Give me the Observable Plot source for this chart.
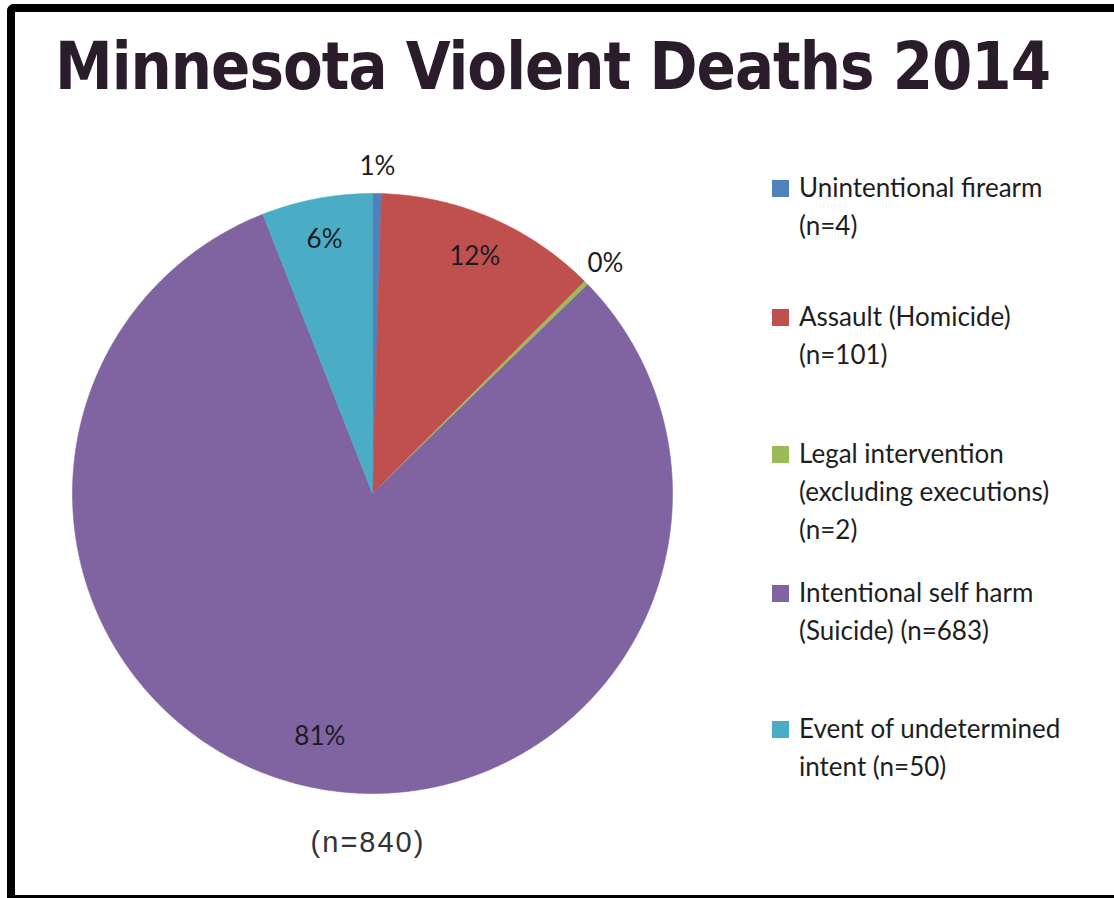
<!DOCTYPE html>
<html><head><meta charset="utf-8">
<script src="https://cdn.jsdelivr.net/npm/d3@7"></script>
<script src="https://cdn.jsdelivr.net/npm/@observablehq/plot@0.6"></script>
<style>
html,body{margin:0;padding:0;background:#fff;}
#wrap{position:relative;width:1114px;height:898px;overflow:hidden;background:#fff;}
#chart{position:absolute;left:0;top:0;}
#frame{position:absolute;left:7px;top:4px;width:1130px;height:899px;border-left:8px solid #000;border-top:8px solid #000;border-bottom:8px solid #000;border-top-left-radius:7px;box-sizing:border-box;pointer-events:none;}
#title{position:absolute;left:55px;top:34px;font-family:"DejaVu Sans Condensed","DejaVu Sans",sans-serif;font-stretch:condensed;font-weight:bold;font-size:66px;line-height:66px;letter-spacing:-1px;color:#2a1c2b;white-space:nowrap;transform-origin:0 0;}
#legend{position:absolute;left:772px;top:0;font-family:Lato,sans-serif;font-size:26px;line-height:38px;color:#1e1e1e;}
.entry{position:absolute;left:0;white-space:nowrap;}
.sw{position:absolute;left:0;width:17px;height:17px;}
.txt{position:absolute;left:27px;top:0;}
#total{position:absolute;left:368px;top:826px;transform:translateX(-50%);font-family:"Liberation Sans",Arial,sans-serif;font-size:29px;letter-spacing:2px;color:#333;white-space:nowrap;}
</style>
</head><body>
<div id="wrap">
  <div id="chart"></div>
  <div id="title"></div>
  <div id="legend"></div>
  <div id="total"></div>
  <div id="frame"></div>
</div>
<script>
// ---- data ----
const titleText = "Minnesota Violent Deaths 2014";
const categories = [
  "Unintentional firearm",
  "Assault (Homicide)",
  "Legal intervention (excluding executions)",
  "Intentional self harm (Suicide)",
  "Event of undetermined intent"
];
const counts = [4, 101, 2, 683, 50];
const pctLabels = ["1%", "12%", "0%", "81%", "6%"];
const legendLines = [
  ["Unintentional firearm", "(n=4)"],
  ["Assault (Homicide)", "(n=101)"],
  ["Legal intervention", "(excluding executions)", "(n=2)"],
  ["Intentional self harm", "(Suicide) (n=683)"],
  ["Event of undetermined", "intent (n=50)"]
];
// ---- styles ----
const colors = ["#4f81bd", "#c0504d", "#9bbb59", "#8064a2", "#4bacc6"];

const W = 1114, H = 898;
const cx = 372, cy = 493, R = 300; // layout of the pie in px
const total = d3.sum(counts);

const rows = categories.map((c, i) => ({name: c, count: counts[i], label: pctLabels[i]}));
const arcs = d3.pie().sort(null).value(d => d.count)(rows);

// slice outlines in unit-radius data coordinates (y up)
const poly = [];
arcs.forEach(a => {
  const name = a.data.name;
  poly.push({name, x: 0, y: 0});
  const n = Math.max(2, Math.ceil((a.endAngle - a.startAngle) / (Math.PI / 360)));
  for (let k = 0; k <= n; k++) {
    const t = a.startAngle + (a.endAngle - a.startAngle) * k / n;
    poly.push({name, x: Math.sin(t), y: Math.cos(t)});
  }
  poly.push({name, x: 0, y: 0});
});

const labels = arcs.map(a => {
  const mid = (a.startAngle + a.endAngle) / 2;
  const share = a.data.count / total;
  const r = share < 0.02 ? 1.09 : (share > 0.5 ? 0.83 : 0.86);
  return {text: a.data.label, x: r * Math.sin(mid), y: r * Math.cos(mid)};
});

const plot = Plot.plot({
  width: W, height: H,
  margin: 0,
  x: {domain: [-cx / R, (W - cx) / R], axis: null},
  y: {domain: [-(H - cy) / R, cy / R], axis: null},
  color: {domain: categories, range: colors},
  style: {background: "transparent"},
  marks: [
    Plot.line(poly, {x: "x", y: "y", z: "name", fill: "name", stroke: "name", strokeWidth: 0.6, curve: "linear"}),
    Plot.text(labels, {x: "x", y: "y", text: "text", fontSize: 26, fontFamily: "Lato, sans-serif", fill: "#1c1c24", textAnchor: "middle", lineAnchor: "middle"})
  ]
});
document.getElementById("chart").appendChild(plot);

const titleEl = document.getElementById("title");
titleEl.textContent = titleText;
// fit the title to the reference width (about 995px)
const tw = titleEl.getBoundingClientRect().width;
if (tw > 0) titleEl.style.transform = `scaleX(${995 / tw})`;

document.getElementById("total").textContent = `(n=${total})`;

// legend (HTML)
const baselines = [197, 326, 463, 602, 738];
const leg = document.getElementById("legend");
legendLines.forEach((lines, i) => {
  const e = document.createElement("div");
  e.className = "entry";
  e.style.top = (baselines[i] - 29) + "px";
  const sw = document.createElement("div");
  sw.className = "sw";
  sw.style.background = colors[i];
  sw.style.top = "12px";
  e.appendChild(sw);
  const t = document.createElement("div");
  t.className = "txt";
  t.innerHTML = lines.map(s => s.replace(/&/g, "&amp;").replace(/</g, "&lt;")).join("<br>");
  e.appendChild(t);
  leg.appendChild(e);
});
</script>
</body></html>
